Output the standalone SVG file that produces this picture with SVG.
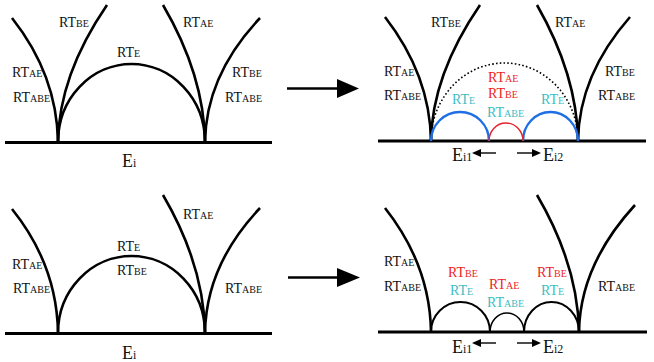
<svg xmlns="http://www.w3.org/2000/svg" width="654" height="362" viewBox="0 0 654 362">
<defs>
<style>
.t{font-family:"Liberation Serif","Times New Roman",serif;font-size:14px;fill:#111}
.s{font-size:10px}
.e{font-size:18px}
.es{font-size:12px}
.red{fill:#ee1c24}
.cy{fill:#3cbdc4}
.ln{fill:none;stroke:#000;stroke-width:2.6;stroke-linecap:butt}
.base{fill:none;stroke:#000;stroke-width:3}
.arc{fill:none;stroke:#000;stroke-width:2.6}
.blue{fill:none;stroke:#1e6fe6;stroke-width:2.4}
.rarc{fill:none;stroke:#e8202a;stroke-width:1.4}
.dot{fill:none;stroke:#000;stroke-width:1.6;stroke-dasharray:1.6 2.2}
.arr{stroke:#000;stroke-width:2.6;fill:none}
.sarr{stroke:#000;stroke-width:1.4;fill:none}
</style>
</defs>

<g id="panel1">
<line class="base" x1="5" y1="142.5" x2="272" y2="142.5"/>
<path class="ln" d="M12,18 Q57,75 58,142"/>
<path class="ln" d="M107,5 Q59,75 58,142"/>
<path class="ln" d="M163,5 Q204,75 205,142"/>
<path class="ln" d="M260,18 Q206,75 205,142"/>
<path class="arc" d="M58,142 A73.5,78 0 0 1 205,142"/>
<text class="t" x="59" y="27">RT<tspan class="s">BE</tspan></text>
<text class="t" x="183" y="27">RT<tspan class="s">AE</tspan></text>
<text class="t" x="117" y="57">RT<tspan class="s">E</tspan></text>
<text class="t" x="12" y="77">RT<tspan class="s">AE</tspan></text>
<text class="t" x="13" y="102">RT<tspan class="s">ABE</tspan></text>
<text class="t" x="232" y="77">RT<tspan class="s">BE</tspan></text>
<text class="t" x="225" y="102">RT<tspan class="s">ABE</tspan></text>
<text class="t e" x="122" y="167">E<tspan class="es">i</tspan></text>
</g>

<g id="panel2">
<line class="base" x1="378" y1="141" x2="646" y2="141"/>
<path class="ln" d="M385,17 Q430,75 431,141"/>
<path class="ln" d="M480,5 Q432,75 431,141"/>
<path class="ln" d="M537,5 Q577,75 578,141"/>
<path class="ln" d="M630,17 Q579,75 578,141"/>
<path class="dot" d="M431,141 A73.5,78 0 0 1 578,141"/>
<path class="blue" d="M431,141 A29,29 0 0 1 489,141"/>
<path class="blue" d="M523,141 A27.5,29 0 0 1 578,141"/>
<path class="rarc" d="M489,141 A17,18 0 0 1 523,141"/>
<text class="t" x="431" y="27">RT<tspan class="s">BE</tspan></text>
<text class="t" x="555" y="27">RT<tspan class="s">AE</tspan></text>
<text class="t" x="384" y="76">RT<tspan class="s">AE</tspan></text>
<text class="t" x="384" y="100">RT<tspan class="s">ABE</tspan></text>
<text class="t" x="605" y="76">RT<tspan class="s">BE</tspan></text>
<text class="t" x="598" y="100">RT<tspan class="s">ABE</tspan></text>
<text class="t red" x="488" y="82">RT<tspan class="s">AE</tspan></text>
<text class="t red" x="488" y="98">RT<tspan class="s">BE</tspan></text>
<text class="t cy" x="487" y="117">RT<tspan class="s">ABE</tspan></text>
<text class="t cy" x="452" y="104">RT<tspan class="s">E</tspan></text>
<text class="t cy" x="541" y="104">RT<tspan class="s">E</tspan></text>
<text class="t e" x="452" y="161">E<tspan class="es">i1</tspan></text>
<text class="t e" x="543" y="161">E<tspan class="es">i2</tspan></text>
</g>

<g id="panel3">
<line class="base" x1="5" y1="333.5" x2="272" y2="333.5"/>
<path class="ln" d="M12,209 Q57,265 58,333"/>
<path class="ln" d="M163,195 Q204,265 205,333"/>
<path class="ln" d="M260,208 Q206,265 205,333"/>
<path class="arc" d="M58,333 A73.5,77 0 0 1 205,333"/>
<text class="t" x="117" y="251">RT<tspan class="s">E</tspan></text>
<text class="t" x="117" y="275">RT<tspan class="s">BE</tspan></text>
<text class="t" x="183" y="219">RT<tspan class="s">AE</tspan></text>
<text class="t" x="12" y="269">RT<tspan class="s">AE</tspan></text>
<text class="t" x="13" y="293">RT<tspan class="s">ABE</tspan></text>
<text class="t" x="225" y="293">RT<tspan class="s">ABE</tspan></text>
<text class="t e" x="122" y="359">E<tspan class="es">i</tspan></text>
</g>

<g id="panel4">
<line class="base" x1="378" y1="332" x2="647" y2="332"/>
<path class="ln" d="M385,208 Q430,265 431,332"/>
<path class="ln" d="M537,195 Q578,265 579,332"/>
<path class="ln" d="M635,205 Q580,265 579,332"/>
<path class="arc" style="stroke-width:2" d="M431,332 A29.5,30 0 0 1 490,332"/>
<path class="arc" style="stroke-width:1.6" d="M490,332 A17,19 0 0 1 524,332"/>
<path class="arc" style="stroke-width:2" d="M524,332 A27.5,30 0 0 1 579,332"/>
<text class="t" x="384" y="266">RT<tspan class="s">AE</tspan></text>
<text class="t" x="384" y="291">RT<tspan class="s">ABE</tspan></text>
<text class="t" x="598" y="291">RT<tspan class="s">ABE</tspan></text>
<text class="t red" x="448" y="277">RT<tspan class="s">BE</tspan></text>
<text class="t cy" x="450" y="295">RT<tspan class="s">E</tspan></text>
<text class="t red" x="489" y="289">RT<tspan class="s">AE</tspan></text>
<text class="t cy" x="487" y="307">RT<tspan class="s">ABE</tspan></text>
<text class="t red" x="537" y="277">RT<tspan class="s">BE</tspan></text>
<text class="t cy" x="541" y="295">RT<tspan class="s">E</tspan></text>
<text class="t e" x="452" y="353">E<tspan class="es">i1</tspan></text>
<text class="t e" x="543" y="353">E<tspan class="es">i2</tspan></text>
</g>

<g id="connectors">
<line class="arr" x1="287" y1="88.5" x2="340" y2="88.5"/>
<polygon points="337,79 359,88.5 337,98" fill="#000"/>
<line class="arr" x1="288" y1="277.5" x2="340" y2="277.5"/>
<polygon points="337,268 360,277.5 337,287" fill="#000"/>
<line class="sarr" x1="496" y1="153" x2="480" y2="153"/>
<polygon points="481,149 472,153 481,157" fill="#000"/>
<line class="sarr" x1="517" y1="153" x2="533" y2="153"/>
<polygon points="532,149 541,153 532,157" fill="#000"/>
<line class="sarr" x1="496" y1="343" x2="480" y2="343"/>
<polygon points="481,339 472,343 481,347" fill="#000"/>
<line class="sarr" x1="517" y1="343" x2="533" y2="343"/>
<polygon points="532,339 541,343 532,347" fill="#000"/>
</g>
</svg>
